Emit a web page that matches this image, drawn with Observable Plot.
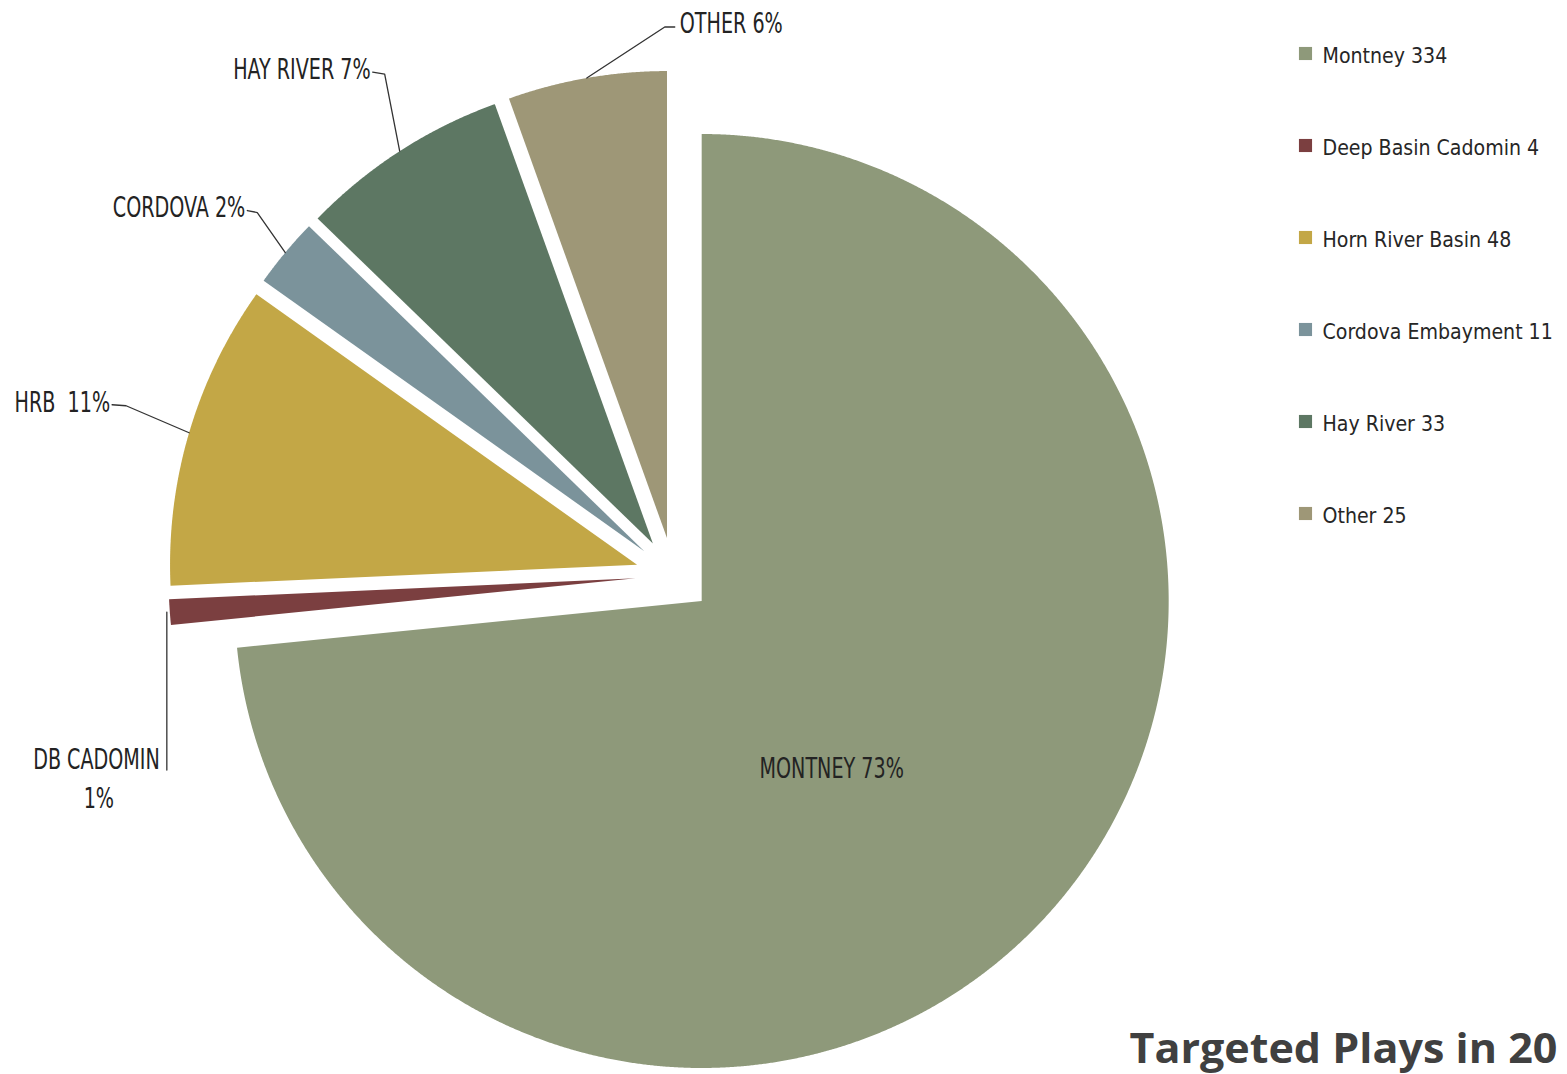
<!DOCTYPE html>
<html>
<head>
<meta charset="utf-8">
<script src="https://cdn.jsdelivr.net/npm/d3@7"></script>
<script src="https://cdn.jsdelivr.net/npm/@observablehq/plot@0.6"></script>
<style>
  html, body { margin: 0; padding: 0; background: #fff; overflow: hidden; }
  #chart { width: 1567px; height: 1074px; }
</style>
</head>
<body>
<div id="chart"></div>
<script>
// ---- data ----
const plays = ["Montney", "Deep Basin Cadomin", "Horn River Basin", "Cordova Embayment", "Hay River", "Other"];
const wells = [334, 4, 48, 11, 33, 25];
const sliceLabels = ["MONTNEY 73%", "DB CADOMIN", "HRB  11%", "CORDOVA 2%", "HAY RIVER 7%", "OTHER 6%"];
const sliceLabelsLine2 = ["", "1%", "", "", "", ""];
const legendLabels = ["Montney 334", "Deep Basin Cadomin 4", "Horn River Basin 48", "Cordova Embayment 11", "Hay River 33", "Other 25"];
const titleText = "Targeted Plays in 20";
const colors = ["#8e997a", "#7b3f40", "#c3a746", "#7b939b", "#5d7763", "#9e9777"];

// ---- layout (pixels) ----
const W = 1567, H = 1074;
const CX = 673, CY = 575, R = 467, EXPLODE = 38;
const toX = px => (px - CX) / R;
const toY = py => (CY - py) / R;
const u = v => v / R;
const e = u(EXPLODE);
const labelFont = "'DejaVu Sans Condensed', 'Liberation Sans Narrow', sans-serif";

const arcs = d3.pie().sort(null).value(d => d)(wells);

// slice polygons
const sliceRows = [];
const apex = [], anchor = [];
arcs.forEach((a, i) => {
  const mid = (a.startAngle + a.endAngle) / 2;
  const ox = e * Math.sin(mid), oy = e * Math.cos(mid);
  apex.push([ox, oy]);
  anchor.push([ox + Math.sin(mid), oy + Math.cos(mid)]);
  sliceRows.push({play: plays[i], x: ox, y: oy});
  const n = Math.max(2, Math.ceil((a.endAngle - a.startAngle) / 0.003));
  for (let k = 0; k <= n; k++) {
    const t = a.startAngle + (a.endAngle - a.startAngle) * k / n;
    sliceRows.push({play: plays[i], x: ox + Math.sin(t), y: oy + Math.cos(t)});
  }
  sliceRows.push({play: plays[i], x: ox, y: oy});
});

// leader lines: offsets (px) from the arc anchor at each slice's bisector
const leaderOffsets = [
  null,
  [[-3, 0], [-3, 158]],
  [[0, 0], [-63, -27], [-77, -28]],
  [[0, 0], [-28, -40], [-38, -42]],
  [[0, 0], [-15, -77], [-27, -79]],
  [[0, 0], [78, -51], [88, -51]]
];
// text offsets (px) from the anchor: [dx, baseline dy, textAnchor]
const textOffsets = [
  null,
  [-10, 157, "end"],
  [-79, -21, "end"],
  [-40, -36, "end"],
  [-29, -72, "end"],
  [93, -45, "start"]
];
const line2Offsets = [null, [-71, 196, "middle"], null, null, null, null];

const leaderRows = [];
leaderOffsets.forEach((offs, i) => {
  if (!offs) return;
  offs.forEach(([dx, dy]) => leaderRows.push({id: i, x: anchor[i][0] + u(dx), y: anchor[i][1] - u(dy)}));
});

const labelRows = [];
sliceLabels.forEach((t, i) => {
  if (i === 0) {
    labelRows.push({text: t, x: apex[0][0] + u(130), y: apex[0][1] - u(177), anchor: "middle"});
  } else {
    const [dx, dy, ta] = textOffsets[i];
    labelRows.push({text: t, x: anchor[i][0] + u(dx), y: anchor[i][1] - u(dy), anchor: ta});
  }
  if (line2Offsets[i]) {
    const [dx, dy, ta] = line2Offsets[i];
    labelRows.push({text: sliceLabelsLine2[i], x: anchor[i][0] + u(dx), y: anchor[i][1] - u(dy), anchor: ta});
  }
});

const legendRows = plays.map((p, i) => ({play: p, label: legendLabels[i], i}));

const labelStyle = {lineAnchor: "bottom", fontSize: 28, fontFamily: labelFont, fill: "#232323", className: "narrow-label"};

const chart = Plot.plot({
  width: W,
  height: H,
  margin: 0,
  x: {domain: [toX(0), toX(W)], axis: null},
  y: {domain: [toY(H), toY(0)], axis: null},
  color: {domain: plays, range: colors},
  marks: [
    Plot.line(sliceRows, {x: "x", y: "y", z: "play", fill: "play", stroke: "none", curve: "linear"}),
    Plot.line(leaderRows, {x: "x", y: "y", z: "id", stroke: "#333", strokeWidth: 1.3}),
    Plot.text(labelRows.filter(d => d.anchor === "start"), {x: "x", y: "y", text: "text", ...labelStyle, textAnchor: "start"}),
    Plot.text(labelRows.filter(d => d.anchor === "end"), {x: "x", y: "y", text: "text", ...labelStyle, textAnchor: "end"}),
    Plot.text(labelRows.filter(d => d.anchor === "middle"), {x: "x", y: "y", text: "text", ...labelStyle, textAnchor: "middle"}),
    Plot.dot(legendRows, {x: toX(1305), y: d => toY(53 + d.i * 92), fill: "play", symbol: "square", r: 7.4}),
    Plot.text(legendRows, {x: toX(1322), y: d => toY(62 + d.i * 92), text: "label", textAnchor: "start", lineAnchor: "bottom", fontSize: 22, fontFamily: labelFont, fill: "#262626", className: "narrow-legend"}),
    Plot.text([titleText], {x: toX(1129), y: toY(1062), text: d => d, textAnchor: "start", lineAnchor: "bottom", fontSize: 41, fontWeight: "bold", fontFamily: "'Open Sans', sans-serif", fill: "#404040", className: "title-text"})
  ]
});
document.getElementById("chart").append(chart);

// condense text horizontally (the original uses a condensed typeface)
function squeeze(selector, factor) {
  chart.querySelectorAll(selector).forEach(t => {
    const w = t.getComputedTextLength();
    t.setAttribute("textLength", (w * factor).toFixed(1));
    t.setAttribute("lengthAdjust", "spacingAndGlyphs");
  });
}
squeeze(".narrow-label text", 0.76);
squeeze(".narrow-legend text", 0.96);
squeeze(".title-text text", 1.05);
</script>
</body>
</html>
